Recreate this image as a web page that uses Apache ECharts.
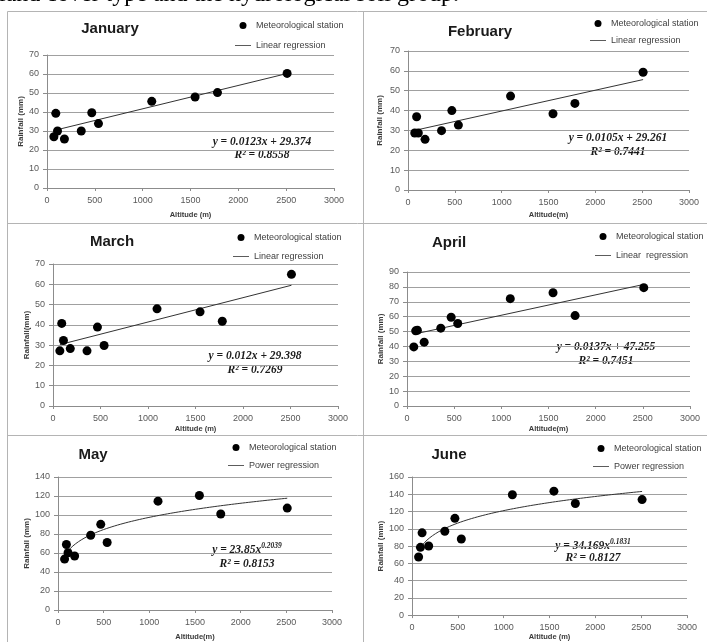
<!DOCTYPE html>
<html>
<head>
<meta charset="utf-8">
<script src="https://cdn.jsdelivr.net/npm/echarts@6/dist/echarts.min.js"></script>
<style>
html,body{margin:0;padding:0;background:#fff;}
#chart{width:707px;height:642px;}
</style>
</head>
<body>
<div id="chart"></div>
<script>
// ---- data ----
const months = ['January', 'February', 'March', 'April', 'May', 'June'];
const altitude = [72, 92, 110, 182, 358, 468, 538, 1095, 1548, 1782, 2510];
const janRain = [27.0, 39.3, 30.0, 25.8, 30.0, 39.6, 33.9, 45.6, 47.9, 50.2, 60.3];
const febRain = [28.7, 36.9, 28.7, 25.5, 29.9, 40.0, 32.7, 47.3, 38.4, 43.6, 59.3];
const marRain = [27.2, 40.7, 32.3, 28.3, 27.2, 38.9, 29.8, 47.9, 46.4, 41.8, 64.9];
const aprRain = [39.7, 50.5, 50.9, 42.9, 52.3, 59.6, 55.4, 72.1, 76.1, 60.7, 79.5];
const mayRain = [53.6, 69.0, 60.3, 56.8, 78.7, 90.2, 71.1, 114.6, 120.5, 101.0, 107.3];
const junRain = [67.3, 78.5, 95.3, 80.0, 97.2, 112.1, 88.2, 139.4, 143.6, 129.3, 133.8];
// regression coefficients printed on the chart
const janFit = [0.0123, 29.374];
const febFit = [0.0105, 29.261];
const marFit = [0.012, 29.398];
const aprFit = [0.0137, 47.255];
const mayFit = [23.85, 0.2039];
const junFit = [34.169, 0.1831];
const yMax = [70, 70, 70, 90, 140, 160];
const yStep = [10, 10, 10, 10, 20, 20];
const xTicks = [0, 500, 1000, 1500, 2000, 2500, 3000];
const xNames = ['Altitude (m)', 'Altitude(m)', 'Altitude (m)', 'Altitude(m)', 'Altitude(m)', 'Altitude (m)'];
const yNames = ['Rainfall (mm)', 'Rainfall (mm)', 'Rainfall(mm)', 'Rainfall (mm)', 'Rainfall (mm)', 'Rainfall (mm)'];
const fitNames = ['Linear regression', 'Linear regression', 'Linear regression', 'Linear  regression', 'Power regression', 'Power regression'];
const eqTexts = ['y = 0.0123x + 29.374', 'y = 0.0105x + 29.261', 'y = 0.012x + 29.398', 'y = 0.0137x + 47.255', ['y = 23.85x', '0.2039'], ['y = 34.169x', '0.1831']];
const r2Texts = ['R² = 0.8558', 'R² = 0.7441', 'R² = 0.7269', 'R² = 0.7451', 'R² = 0.8153', 'R² = 0.8127'];

const rains = [janRain, febRain, marRain, aprRain, mayRain, junRain];
const fits = [janFit, febFit, marFit, aprFit, mayFit, junFit];
const fitType = ['linear', 'linear', 'linear', 'linear', 'power', 'power'];

// ---- layout (pixels) ----
const grids = [
  {left: 47, top: 55, width: 287, height: 133},
  {left: 408, top: 51, width: 281, height: 139},
  {left: 53, top: 264, width: 285, height: 142},
  {left: 407, top: 272, width: 283, height: 134},
  {left: 58, top: 477, width: 274, height: 134},
  {left: 412, top: 477, width: 275, height: 143}
];
const xNameGap = [23, 21, 19, 19, 23, 17];
const yNameGap = [22, 24, 22, 21, 26, 26];
const titlePos = [[110, 29], [480, 32], [112, 242], [449, 243], [93, 455], [449, 455]];
const legendPos = [[235, 21], [590, 19], [233, 233], [595, 232], [228, 443], [593, 444]];
const legendGap = [11, 8, 10, 10, 9, 9];
const eqPos = [[262, 142.5, 155.5], [618, 138.5, 152.5], [255, 356.5, 370], [606, 347.5, 361], [247, 550, 564], [593, 546, 558.5]];

function fitLine(i) {
  const xs = altitude;
  const x0 = Math.min(...xs), x1 = Math.max(...xs);
  const f = fits[i];
  const pts = [];
  if (fitType[i] === 'linear') {
    pts.push([x0, f[0] * x0 + f[1]]);
    pts.push([x1, f[0] * x1 + f[1]]);
  } else {
    const n = 80;
    for (let k = 0; k <= n; k++) {
      const x = x0 + (x1 - x0) * k / n;
      pts.push([x, f[0] * Math.pow(x, f[1])]);
    }
  }
  return pts;
}

const axisGrey = '#8c8c8c';
const tickFont = {fontSize: 9, color: '#595959', fontFamily: 'Liberation Sans', formatter: v => String(v)};
const xNameFont = {fontSize: 7.5, fontWeight: 'bold', color: '#3a3a3a', fontFamily: 'Liberation Sans'};
const yNameFont = {fontSize: 8, fontWeight: 'bold', color: '#3a3a3a', fontFamily: 'Liberation Sans'};

const option = {
  animation: false,
  backgroundColor: '#fff',
  grid: grids.map(g => Object.assign({containLabel: false}, g)),
  xAxis: grids.map((g, i) => ({
    gridIndex: i, type: 'value', min: xTicks[0], max: xTicks[xTicks.length - 1], interval: xTicks[1] - xTicks[0],
    name: xNames[i], nameLocation: 'middle', nameGap: xNameGap[i], nameTextStyle: xNameFont,
    axisLine: {show: true, lineStyle: {color: axisGrey, width: 1}},
    axisTick: {show: true, length: 3, lineStyle: {color: axisGrey}},
    axisLabel: Object.assign({margin: 8}, tickFont),
    splitLine: {show: false}
  })),
  yAxis: grids.map((g, i) => ({
    gridIndex: i, type: 'value', min: 0, max: yMax[i], interval: yStep[i],
    name: yNames[i], nameLocation: 'middle', nameGap: yNameGap[i], nameTextStyle: yNameFont,
    axisLine: {show: true, lineStyle: {color: axisGrey, width: 1}},
    axisTick: {show: true, length: 4, lineStyle: {color: axisGrey}},
    axisLabel: Object.assign({margin: 8}, tickFont),
    splitLine: {show: true, lineStyle: {color: '#a0a0a0', width: 1}}
  })),
  legend: grids.map((g, i) => ({
    orient: 'vertical', left: legendPos[i][0], top: legendPos[i][1], padding: 0,
    itemWidth: 16, itemHeight: 7, itemGap: legendGap[i], selectedMode: false,
    textStyle: {fontSize: 9, color: '#404040', fontFamily: 'Liberation Sans'},
    data: [
      {name: 'Meteorological station', icon: 'circle'},
      {name: fitNames[i], icon: 'path://M0,0H20V1H0Z'}
    ]
  })),
  series: []
};

rains.forEach((r, i) => {
  option.series.push({
    type: 'line', name: fitNames[i], xAxisIndex: i, yAxisIndex: i,
    data: fitLine(i), showSymbol: false, symbol: 'none', color: '#333',
    lineStyle: {color: '#333', width: 1}, silent: true, z: 2
  });
  option.series.push({
    type: 'scatter', name: 'Meteorological station', xAxisIndex: i, yAxisIndex: i,
    data: altitude.map((a, k) => [a, r[k]]), symbolSize: 9, color: '#000',
    itemStyle: {color: '#000', opacity: 1}, silent: true, z: 3
  });
});

const graphics = [];
// page text cut at top
graphics.push({type: 'text', x: -1, y: -5, style: {text: 'land cover type and the hydrological soil group.', fontFamily: 'Liberation Serif', fontSize: 24, fill: '#000', align: 'left', verticalAlign: 'middle'}});
// panel borders
const bc = '#b4b4b4';
[[7, 11, 707, 11], [7, 223, 707, 223], [7, 435, 707, 435], [7, 11, 7, 642], [363, 11, 363, 642]].forEach(l => {
  graphics.push({type: 'line', shape: {x1: l[0] + 0.5, y1: l[1] + 0.5, x2: l[2] + 0.5, y2: l[3] + 0.5}, style: {stroke: bc, lineWidth: 1}, silent: true});
});
months.forEach((m, i) => {
  graphics.push({type: 'text', x: titlePos[i][0], y: titlePos[i][1], style: {text: m, fontFamily: 'Liberation Sans', fontWeight: 'bold', fontSize: 15, fill: '#1a1a1a', align: 'center', verticalAlign: 'middle'}});
  const eq = eqTexts[i];
  const eqStyle = {fontFamily: 'Liberation Serif', fontWeight: 'bold', fontStyle: 'italic', fontSize: 11.5, fill: '#1a1a1a', align: 'center', verticalAlign: 'middle'};
  if (Array.isArray(eq)) {
    graphics.push({type: 'text', x: eqPos[i][0], y: eqPos[i][1], style: Object.assign({}, eqStyle, {
      text: '{a|' + eq[0] + '}{b|' + eq[1] + '}',
      rich: {
        a: {fontFamily: 'Liberation Serif', fontWeight: 'bold', fontStyle: 'italic', fontSize: 11.5, fill: '#1a1a1a'},
        b: {fontFamily: 'Liberation Serif', fontWeight: 'bold', fontStyle: 'italic', fontSize: 7.5, fill: '#1a1a1a', padding: [0, 0, 8, 0]}
      }
    })});
  } else {
    graphics.push({type: 'text', x: eqPos[i][0], y: eqPos[i][1], style: Object.assign({}, eqStyle, {text: eq})});
  }
  graphics.push({type: 'text', x: eqPos[i][0], y: eqPos[i][2], style: Object.assign({}, eqStyle, {text: r2Texts[i]})});
});
option.graphic = {elements: graphics};

const chart = echarts.init(document.getElementById('chart'), null, {renderer: 'canvas'});
chart.setOption(option);
</script>
</body>
</html>
